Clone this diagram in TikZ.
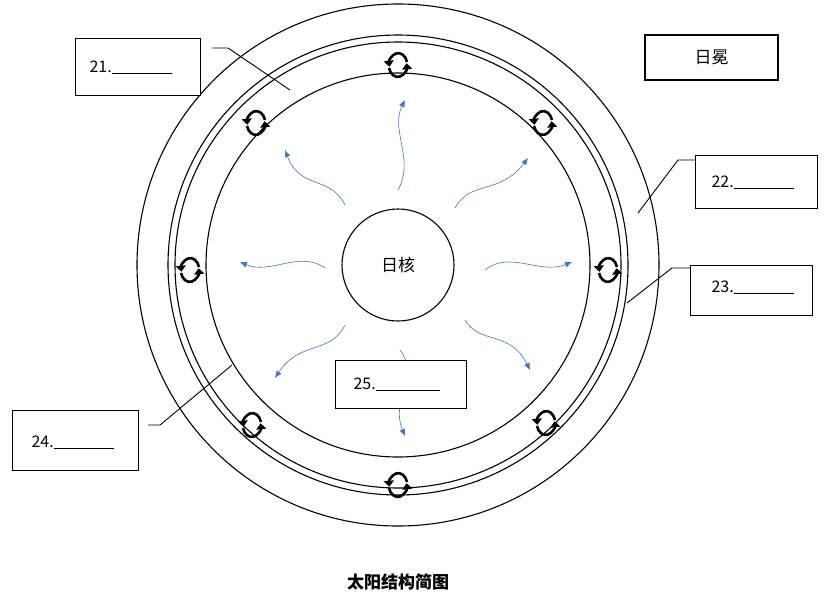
\documentclass[tikz,border=0pt]{standalone}
\usepackage{fontspec}
\setmainfont{Noto Sans CJK SC}
\usetikzlibrary{arrows.meta}
\begin{document}
\begin{tikzpicture}[x=1pt,y=-1pt,
 ln/.style={line width=1.1pt,black},
 box/.style={draw,line width=1.1pt,fill=white,anchor=north west,inner sep=0pt},
 lab/.style={font=\fontsize{16}{18}\selectfont,anchor=west},
 bl/.style={line width=0.6pt,-{Latex[length=7pt,width=6pt]},color={rgb,255:red,70;green,114;blue,196}},
 ic/.style={line width=2.6pt,-{Triangle[length=6pt,width=10pt]}}]
\useasboundingbox (0,0) rectangle (830,600);
\coordinate (c) at (398,265);
\draw[ln] (c) circle (261);
\draw[ln] (c) circle (230);
\draw[ln] (c) circle (223);
\draw[ln] (c) circle (192);
\node[draw,line width=1.1pt,circle,minimum size=112pt,font=\fontsize{17}{19}\selectfont] (core) at (c) {日核};
% blue arrows
\draw[bl] (398,190) .. controls (415,160) and (390,130) .. (405,100);
\draw[bl] (455,208) .. controls (470,180) and (500,195) .. (528,158);
\draw[bl] (485,270) .. controls (510,250) and (540,275) .. (572,262);
\draw[bl] (465,320) .. controls (480,345) and (510,330) .. (530,370);
\draw[bl] (400,350) .. controls (420,375) and (390,400) .. (405,436);
\draw[bl] (345,325) .. controls (330,355) and (300,340) .. (275,378);
\draw[bl] (325,268) .. controls (300,250) and (270,275) .. (240,262);
\draw[bl] (345,205) .. controls (330,175) and (300,190) .. (285,150);
% convection icons
\foreach \px/\py in {398/65,256/123,190/270,252/425,398/485,546/423,608/270,543/123}{
  \draw[ic] (\px+9,\py-3) arc[start angle=15,end angle=188,x radius=9pt,y radius=12pt];
  \draw[ic] (\px-9,\py+3) arc[start angle=195,end angle=368,x radius=9pt,y radius=12pt];
}
% labels
\node[box,minimum width=125pt,minimum height=57pt] (b21) at (75,38) {};
\node[lab] at (86,67) {21.\rule[-1pt]{60pt}{0.6pt}};
\draw[ln,line width=0.9pt] (212,48) -- (228,48) -- (290,90);
\node[box,minimum width=133pt,minimum height=45pt,anchor=center,font=\fontsize{17}{19}\selectfont] (rm) at (711.5,57.5) {日冕};
\node[box,minimum width=122pt,minimum height=53pt] (b22) at (695,155) {};
\node[lab] at (708,182) {22.\rule[-1pt]{60pt}{0.6pt}};
\draw[ln,line width=0.9pt] (695,160) -- (678,160) -- (638,213);
\node[box,minimum width=122pt,minimum height=50pt] (b23) at (690,265) {};
\node[lab] at (708,287) {23.\rule[-1pt]{60pt}{0.6pt}};
\draw[ln,line width=0.9pt] (690,268) -- (672,268) -- (627,303);
\node[box,minimum width=126pt,minimum height=60pt] (b24) at (12,410) {};
\node[lab] at (28,442) {24.\rule[-1pt]{60pt}{0.6pt}};
\draw[ln,line width=0.9pt] (148,425) -- (160,425) -- (232,365);
\node[box,minimum width=131pt,minimum height=48pt] (b25) at (335,360) {};
\node[lab] at (350,384) {25.\rule[-1pt]{64pt}{0.6pt}};
\node[font=\bfseries\fontsize{17}{19}\selectfont] (t) at (398,582) {太阳结构简图};
\end{tikzpicture}
\end{document}
